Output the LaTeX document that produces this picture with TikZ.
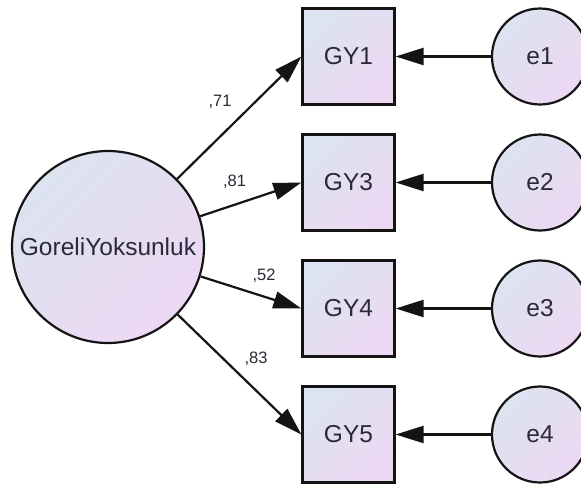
\documentclass[tikz,border=0pt]{standalone}
\usepackage{fontspec}
\setmainfont{Liberation Sans}
\usetikzlibrary{arrows.meta}
\definecolor{fillA}{HTML}{DCE3F1}
\definecolor{fillB}{HTML}{EDD8F3}
\definecolor{txt}{HTML}{2A2A3A}
\definecolor{edge}{HTML}{141414}
\begin{document}
\begin{tikzpicture}[x=1pt,y=-1pt,
  grad/.style={left color=fillA, right color=fillB, shading angle=45},
  obs/.style={grad, draw=edge, line width=2.2pt, rectangle, minimum width=92pt, minimum height=96pt, inner sep=0pt, text=txt, font=\fontsize{24.5}{28}\selectfont},
  lat/.style={grad, draw=edge, line width=2.2pt, circle, minimum size=192pt, inner sep=0pt, text=txt, font=\fontsize{24.5}{28}\selectfont},
  err/.style={grad, draw=edge, line width=2.2pt, circle, minimum size=96pt, inner sep=0pt, text=txt, font=\fontsize{24.5}{28}\selectfont},
  lab/.style={text=txt, font=\fontsize{16.5}{19}\selectfont, inner sep=0pt},
  path/.style={draw=edge, line width=2.2pt, -{Triangle[length=28pt,width=17pt]}}
]
\useasboundingbox (0,0) rectangle (581,485);
\fill[white] (0,0) rectangle (581,485);

\node[lat] (L) at (108,247) {GoreliYoksunluk};

\node[obs] (g1) at (348.5,56.5) {GY1};
\node[obs] (g3) at (348.5,182.5) {GY3};
\node[obs] (g4) at (348.5,308.5) {GY4};
\node[obs] (g5) at (348.5,434.5) {GY5};

\node[err] (e1) at (540,56.5) {e1};
\node[err] (e2) at (540,182.5) {e2};
\node[err] (e3) at (540,308.5) {e3};
\node[err] (e4) at (540,434.5) {e4};

\draw[path] (L) -- (g1.west);
\draw[path] (L) -- (g3.west);
\draw[path] (L) -- (g4.west);
\draw[path] (L) -- (g5.west);

\draw[path] (e1) -- (g1.east);
\draw[path] (e2) -- (g3.east);
\draw[path] (e3) -- (g4.east);
\draw[path] (e4) -- (g5.east);

\node[lab] (l1) at (220,102) {,71};
\node[lab] (l3) at (234.5,182) {,81};
\node[lab] (l4) at (264,276) {,52};
\node[lab] (l5) at (256,359) {,83};
\end{tikzpicture}
\end{document}
